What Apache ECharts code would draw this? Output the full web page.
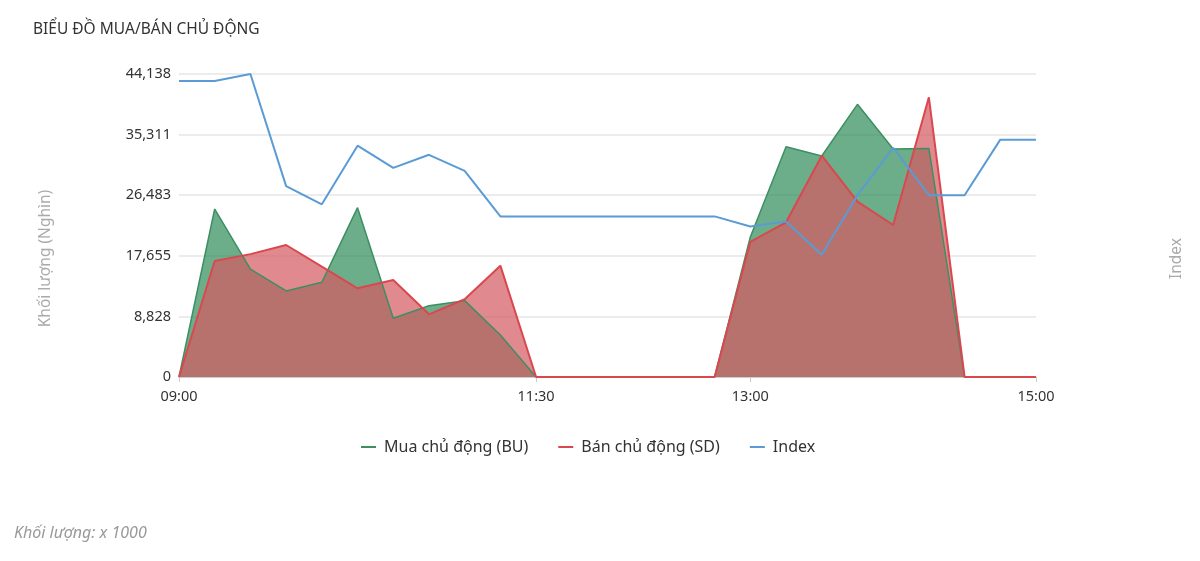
<!DOCTYPE html>
<html>
<head>
<meta charset="utf-8">
<title>Biểu đồ mua/bán chủ động</title>
<script src="https://cdn.jsdelivr.net/npm/echarts@6/dist/echarts.min.js"></script>
<style>
  html, body { margin: 0; padding: 0; background: #fff; }
  #chart { width: 1200px; height: 561px; }
</style>
</head>
<body>
<div id="chart"></div>
<script>
// khung 15 phut, 09:00 -> 15:00
var times = ['09:00','09:15','09:30','09:45','10:00','10:15','10:30','10:45','11:00','11:15','11:30',
             '11:45','12:00','12:15','12:30','12:45','13:00','13:15','13:30','13:45','14:00','14:15',
             '14:30','14:45','15:00'];
var shownTimes = ['09:00', '11:30', '13:00', '15:00'];

// khoi luong (nghin)
var buyBU  = [0, 24470, 15730, 12530, 13790, 24670, 8550, 10390, 11120, 6120, 0,
              0, 0, 0, 0, 0, 20400, 33550, 32190, 39720, 33210, 33300, 0, 0, 0];
var sellSD = [0, 16900, 17900, 19230, 16070, 12920, 14130, 9130, 11320, 16220, 0,
              0, 0, 0, 0, 0, 19700, 22530, 32240, 25540, 22140, 40740, 0, 0, 0];
var indexVals = [1229.3, 1229.3, 1230.0, 1218.9, 1217.1, 1222.9, 1220.7, 1222.0, 1220.4, 1215.9, 1215.9,
                 1215.9, 1215.9, 1215.9, 1215.9, 1215.9, 1214.9, 1215.4, 1212.1, 1218.0, 1222.7, 1218.0,
                 1218.0, 1223.5, 1223.5];

var volMax = 44138.4;

var chart = echarts.init(document.getElementById('chart'));

var option = {
    backgroundColor: '#fff',
    textStyle: { fontFamily: '"Noto Sans", sans-serif' },
    title: {
        text: 'BIỂU ĐỒ MUA/BÁN CHỦ ĐỘNG',
        left: 28,
        top: 17,
        textStyle: { fontSize: 15.5, fontWeight: 'normal', color: '#333' }
    },
    legend: {
        bottom: 101,
        left: 356,
        itemGap: 30,
        itemWidth: 15,
        itemHeight: 2,
        icon: 'rect',
        textStyle: { fontSize: 16, color: '#333', padding: [0, 0, 0, 3] },
        data: ['Mua chủ động (BU)', 'Bán chủ động (SD)', 'Index']
    },
    grid: { left: 179, right: 164, top: 74, bottom: 184 },
    xAxis: {
        type: 'category',
        boundaryGap: false,
        data: times,
        axisLine: { lineStyle: { color: '#ccc' } },
        axisTick: {
            lineStyle: { color: '#ccc' },
            interval: function (i, v) { return shownTimes.indexOf(v) >= 0; }
        },
        axisLabel: {
            color: '#333',
            fontSize: 14.5,
            margin: 12,
            interval: function (i, v) { return shownTimes.indexOf(v) >= 0; }
        }
    },
    yAxis: [{
        type: 'value',
        min: 0,
        max: volMax,
        interval: volMax / 5,
        name: 'Khối lượng (Nghìn)',
        nameLocation: 'middle',
        nameGap: 125,
        nameTextStyle: { color: '#aaa', fontSize: 15.5, padding: [0, 66, 0, 0] },
        axisLabel: {
            color: '#333',
            fontSize: 14.5,
            margin: 8,
            formatter: function (v) { return Math.round(v).toLocaleString('en-US'); }
        },
        splitLine: { lineStyle: { color: '#e6e6e6', width: 1.5 } }
    }, {
        type: 'value',
        min: 1200,
        max: 1230,
        name: 'Index',
        nameLocation: 'middle',
        nameGap: 133,
        nameTextStyle: { color: '#aaa', fontSize: 15.5, padding: [0, 66, 0, 0] },
        axisLabel: { show: false },
        axisTick: { show: false },
        axisLine: { show: false },
        splitLine: { show: false }
    }],
    series: [{
        name: 'Mua chủ động (BU)',
        type: 'line',
        data: buyBU,
        symbol: 'none',
        color: '#3d8f63',
        lineStyle: { width: 1.5, color: '#3d8f63' },
        areaStyle: { color: '#2e8b57', opacity: 0.7 }
    }, {
        name: 'Bán chủ động (SD)',
        type: 'line',
        data: sellSD,
        symbol: 'none',
        color: '#d9484f',
        lineStyle: { width: 2, color: '#d9484f' },
        areaStyle: { color: 'rgb(212,92,98)', opacity: 0.72 }
    }, {
        name: 'Index',
        type: 'line',
        yAxisIndex: 1,
        data: indexVals,
        symbol: 'none',
        color: '#5b9bd5',
        lineStyle: { width: 2, color: '#5b9bd5' }
    }],
    graphic: [{
        type: 'text',
        left: 14,
        top: 525,
        style: {
            text: 'Khối lượng: x 1000',
            fill: '#999',
            font: 'italic 16px "Noto Sans", sans-serif'
        }
    }]
};

chart.setOption(option);
</script>
</body>
</html>
